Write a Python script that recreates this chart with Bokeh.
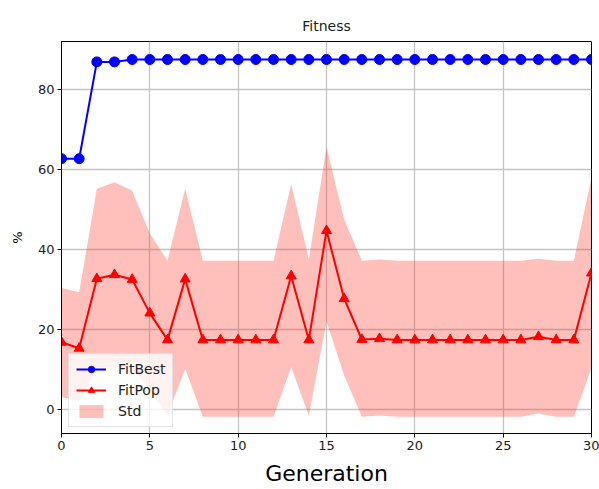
from bokeh.plotting import figure
from bokeh.models import FixedTicker, Legend, LegendItem, Range1d
from bokeh.embed import file_html
from bokeh.resources import INLINE

generations = list(range(31))
fit_best = [62.7, 62.7, 86.9, 86.9, 87.5, 87.5, 87.5, 87.5, 87.5, 87.5, 87.5,
            87.5, 87.5, 87.5, 87.5, 87.5, 87.5, 87.5, 87.5, 87.5, 87.5,
            87.5, 87.5, 87.5, 87.5, 87.5, 87.5, 87.5, 87.5, 87.5, 87.5]
fit_pop = [16.8, 15.3, 32.7, 33.7, 32.5, 24.1, 17.4, 32.6, 17.4, 17.4, 17.4,
           17.4, 17.4, 33.4, 17.4, 44.7, 27.7, 17.5, 17.7, 17.4, 17.4,
           17.4, 17.4, 17.4, 17.4, 17.4, 17.4, 18.2, 17.4, 17.4, 34.1]
std_upper = [30.4, 29.3, 55.2, 56.8, 54.7, 44.0, 37.2, 55.2, 37.2, 37.2, 37.2,
             37.2, 37.2, 56.4, 37.5, 65.6, 47.5, 37.2, 37.5, 37.2, 37.2,
             37.2, 37.2, 37.2, 37.2, 37.2, 37.2, 37.7, 37.2, 37.2, 58.0]
std_lower = [3.1, 2.0, 10.5, 10.6, 10.3, 5.0, -1.5, 10.2, -1.8, -1.8, -1.8,
             -1.8, -1.8, 10.6, -1.5, 22.0, 8.5, -1.8, -1.5, -1.8, -1.8,
             -1.8, -1.8, -1.8, -1.8, -1.8, -1.8, -1.0, -1.8, -1.8, 10.3]
x_ticks = [0, 5, 10, 15, 20, 25, 30]
y_ticks = [0, 20, 40, 60, 80]

FONT = "DejaVu Sans"

p = figure(width=599, height=489, output_backend="svg", toolbar_location=None,
           x_range=Range1d(0, 30), y_range=Range1d(-6, 92),
           min_border_left=61, min_border_right=8, min_border_top=41,
           min_border_bottom=56, title="Fitness")

p.title.align = "center"
p.title.text_font = FONT
p.title.text_font_size = "14px"
p.title.text_font_style = "normal"
p.title.text_color = "#222222"
p.title.offset = 0
p.title.standoff = 15

p.outline_line_color = "black"
p.outline_line_width = 1
p.background_fill_color = "white"

for ax in (p.xaxis[0], p.yaxis[0]):
    ax.axis_line_color = "black"
    ax.major_tick_line_color = "black"
    ax.minor_tick_line_color = None
    ax.major_tick_out = 4
    ax.major_tick_in = 0
    ax.major_label_text_font = FONT
    ax.major_label_text_font_size = "13px"
    ax.major_label_text_color = "#222222"
    ax.major_label_standoff = 3
    ax.axis_label_text_font = FONT
    ax.axis_label_text_font_style = "normal"
    ax.axis_label_text_color = "black"

p.xaxis.ticker = FixedTicker(ticks=x_ticks)
p.yaxis.ticker = FixedTicker(ticks=y_ticks)
p.xaxis.axis_label = "Generation"
p.xaxis.axis_label_text_font_size = "22px"
p.xaxis.axis_label_standoff = 8
p.yaxis.axis_label = "%"
p.yaxis.axis_label_text_font_size = "13px"
p.yaxis.axis_label_standoff = 10

p.grid.grid_line_color = "#c4c4c4"
p.grid.grid_line_width = 1.3
p.xgrid.ticker = FixedTicker(ticks=x_ticks)
p.ygrid.ticker = FixedTicker(ticks=y_ticks)

band = p.varea(x=generations, y1=std_lower, y2=std_upper,
               fill_color="#ff2a1a", fill_alpha=0.3)
bl = p.line(generations, fit_best, line_color="blue", line_width=2)
bm = p.scatter(generations, fit_best, marker="circle", size=10,
               fill_color="blue", line_color="blue")
pl = p.line(generations, fit_pop, line_color="red", line_width=2)
pm = p.scatter(generations, fit_pop, marker="triangle", size=10,
               fill_color="red", line_color="red")

legend = Legend(items=[LegendItem(label="FitBest", renderers=[bl, bm]),
                       LegendItem(label="FitPop", renderers=[pl, pm]),
                       LegendItem(label="Std", renderers=[band])],
                location=(7, 6))
legend.label_text_font = FONT
legend.label_text_font_size = "14px"
legend.label_text_color = "#222222"
legend.border_line_color = "#cccccc"
legend.background_fill_alpha = 0.8
legend.glyph_width = 30
legend.glyph_height = 16
legend.spacing = 5
legend.padding = 7
legend.margin = 0
legend.label_standoff = 12
p.add_layout(legend, "center")

open("out.html", "w").write(file_html(p, INLINE))
